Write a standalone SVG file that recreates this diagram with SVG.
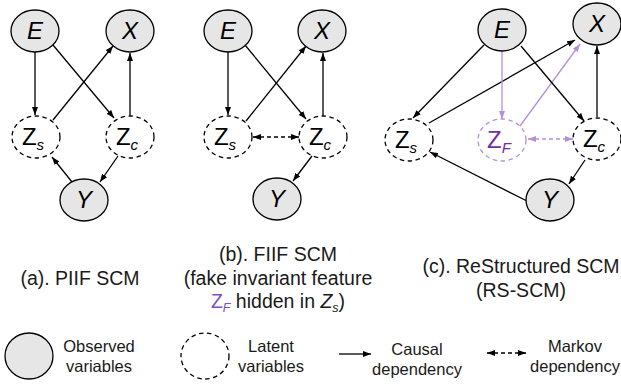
<svg xmlns="http://www.w3.org/2000/svg" width="621" height="388" viewBox="0 0 621 388">
  <style>
    .obs { fill: #e6e6e6; stroke: #000; stroke-width: 1.3; }
    .lat { fill: #fff; stroke: #000; stroke-width: 1.3; stroke-dasharray: 4.5 3.5; }
    .latp { fill: #fff; stroke: #b48fdc; stroke-width: 1.3; stroke-dasharray: 4.5 3.5; }
    .lbl { font-family: "Liberation Sans", Arial, sans-serif; font-size: 24px; font-style: italic; text-anchor: middle; fill: #000; }
    .zl { font-family: "Liberation Sans", Arial, sans-serif; font-size: 24px; text-anchor: middle; fill: #000; }
    .sub { font-size: 15px; font-style: italic; }
    .edge { stroke: #000; stroke-width: 1.3; fill: none; marker-end: url(#ah); }
    .pedge { stroke: #b48fdc; stroke-width: 1.3; fill: none; marker-end: url(#ahp); }
    .mk { stroke: #000; stroke-width: 1.3; fill: none; stroke-dasharray: 4 3; marker-start: url(#ah); marker-end: url(#ah); }
    .pmk { stroke: #b48fdc; stroke-width: 1.3; fill: none; stroke-dasharray: 4 3; marker-start: url(#ahp); marker-end: url(#ahp); }
    .cap { font-family: "Liberation Sans", Arial, sans-serif; font-size: 19.5px; text-anchor: middle; fill: #1a1a1a; }
    .leg { font-family: "Liberation Sans", Arial, sans-serif; font-size: 16.5px; text-anchor: middle; fill: #1a1a1a; }
  </style>
  <defs>
    <marker id="ah" viewBox="0 0 8 6" refX="8" refY="3" markerWidth="8" markerHeight="6" markerUnits="userSpaceOnUse" orient="auto-start-reverse">
      <path d="M0,0 L8,3 L0,6 z" fill="#000"/>
    </marker>
    <marker id="ahp" viewBox="0 0 8 6" refX="8" refY="3" markerWidth="8" markerHeight="6" markerUnits="userSpaceOnUse" orient="auto-start-reverse">
      <path d="M0,0 L8,3 L0,6 z" fill="#b48fdc"/>
    </marker>
  </defs>

  <rect width="621" height="388" fill="#fff"/>

  <!-- connectors -->
  <g id="connectors">
    <!-- (a) PIIF -->
    <line class="edge" x1="35" y1="52" x2="35" y2="115"/>
    <line class="edge" x1="53" y1="45" x2="114" y2="118"/>
    <line class="edge" x1="53" y1="120" x2="113" y2="46"/>
    <line class="edge" x1="130" y1="116" x2="130" y2="53"/>
    <line class="edge" x1="72" y1="182" x2="52" y2="157"/>
    <line class="edge" x1="118" y1="156" x2="100" y2="182"/>
    <!-- (b) FIIF -->
    <line class="edge" x1="228" y1="52" x2="228" y2="115"/>
    <line class="edge" x1="245" y1="45" x2="306" y2="119"/>
    <line class="edge" x1="246" y1="121" x2="306" y2="46"/>
    <line class="edge" x1="323" y1="116" x2="323" y2="53"/>
    <line class="mk" x1="253" y1="137" x2="299" y2="137"/>
    <line class="edge" x1="312" y1="156" x2="293" y2="181"/>
    <!-- (c) RS-SCM -->
    <line class="edge" x1="484" y1="45" x2="413" y2="118"/>
    <line class="edge" x1="429" y1="123" x2="575" y2="40"/>
    <line class="pedge" x1="502" y1="51" x2="502" y2="119"/>
    <line class="pedge" x1="520" y1="126" x2="580" y2="44"/>
    <line class="edge" x1="521" y1="46" x2="584" y2="121"/>
    <line class="edge" x1="597" y1="117" x2="597" y2="46"/>
    <line class="pmk" x1="528" y1="139" x2="573" y2="139"/>
    <line class="edge" x1="585" y1="160" x2="569" y2="184"/>
    <line class="edge" x1="527" y1="201" x2="430" y2="152"/>
  </g>

  <!-- (a) PIIF SCM nodes -->
  <g id="a-E"><ellipse class="obs" cx="35" cy="31" rx="24" ry="21"/><text class="lbl" x="35" y="39">E</text></g>
  <g id="a-X"><ellipse class="obs" cx="130" cy="31" rx="24" ry="21"/><text class="lbl" x="130" y="39">X</text></g>
  <g id="a-Zs"><ellipse class="lat" cx="36" cy="137" rx="24" ry="21"/><text class="zl" x="33" y="145">Z<tspan class="sub" dy="5">s</tspan></text></g>
  <g id="a-Zc"><ellipse class="lat" cx="130" cy="137" rx="24" ry="21"/><text class="zl" x="127" y="145">Z<tspan class="sub" dy="5">c</tspan></text></g>
  <g id="a-Y"><ellipse class="obs" cx="84" cy="200" rx="24" ry="21"/><text class="lbl" x="84" y="208">Y</text></g>

  <!-- (b) FIIF SCM nodes -->
  <g id="b-E"><ellipse class="obs" cx="228" cy="31" rx="24" ry="21"/><text class="lbl" x="228" y="39">E</text></g>
  <g id="b-X"><ellipse class="obs" cx="322" cy="31" rx="24" ry="21"/><text class="lbl" x="322" y="39">X</text></g>
  <g id="b-Zs"><ellipse class="lat" cx="228" cy="137" rx="24" ry="21"/><text class="zl" x="225" y="145">Z<tspan class="sub" dy="5">s</tspan></text></g>
  <g id="b-Zc"><ellipse class="lat" cx="323" cy="137" rx="24" ry="21"/><text class="zl" x="320" y="145">Z<tspan class="sub" dy="5">c</tspan></text></g>
  <g id="b-Y"><ellipse class="obs" cx="277" cy="199" rx="24" ry="21"/><text class="lbl" x="277" y="207">Y</text></g>

  <!-- (c) ReStructured SCM nodes -->
  <g id="c-E"><ellipse class="obs" cx="502" cy="30" rx="24" ry="21"/><text class="lbl" x="502" y="38">E</text></g>
  <g id="c-X"><ellipse class="obs" cx="597" cy="24" rx="24" ry="21"/><text class="lbl" x="597" y="32">X</text></g>
  <g id="c-Zs"><ellipse class="lat" cx="409" cy="140" rx="24" ry="21"/><text class="zl" x="406" y="148">Z<tspan class="sub" dy="5">s</tspan></text></g>
  <g id="c-ZF"><ellipse class="latp" cx="502" cy="140" rx="24" ry="21"/><text class="zl" x="499" y="148" style="fill:#7030a0">Z<tspan class="sub" dy="5">F</tspan></text></g>
  <g id="c-Zc"><ellipse class="lat" cx="597" cy="139" rx="24" ry="21"/><text class="zl" x="594" y="147">Z<tspan class="sub" dy="5">c</tspan></text></g>
  <g id="c-Y"><ellipse class="obs" cx="550" cy="200" rx="24" ry="21"/><text class="lbl" x="550" y="208">Y</text></g>

  <!-- captions -->
  <g id="captions">
    <text class="cap" x="80" y="285">(a). PIIF SCM</text>
    <text class="cap" x="278" y="261">(b). FIIF SCM</text>
    <text class="cap" x="278" y="285">(fake invariant feature</text>
    <text class="cap" x="278" y="308"><tspan fill="#7e4fc0">Z</tspan><tspan fill="#7e4fc0" font-size="12.5" font-style="italic" dy="4">F</tspan><tspan dy="-4"> hidden in </tspan><tspan font-style="italic">Z</tspan><tspan font-size="12.5" font-style="italic" dy="4">s</tspan><tspan dy="-4">)</tspan></text>
    <text class="cap" x="521" y="273">(c). ReStructured SCM</text>
    <text class="cap" x="521" y="297">(RS-SCM)</text>
  </g>

  <!-- legend -->
  <g id="legend">
    <g id="legend-observed">
      <ellipse class="obs" cx="29" cy="356" rx="24" ry="23"/>
      <text class="leg" x="99" y="352">Observed</text>
      <text class="leg" x="99" y="372">variables</text>
    </g>
    <g id="legend-latent">
      <ellipse class="lat" cx="205" cy="356" rx="24" ry="23"/>
      <text class="leg" x="271" y="352">Latent</text>
      <text class="leg" x="271" y="372">variables</text>
    </g>
    <g id="legend-causal">
      <line class="edge" x1="339" y1="354" x2="371" y2="354"/>
      <text class="leg" x="417" y="355">Causal</text>
      <text class="leg" x="417" y="375">dependency</text>
    </g>
    <g id="legend-markov">
      <line class="mk" x1="487" y1="353" x2="526" y2="353"/>
      <text class="leg" x="575" y="352">Markov</text>
      <text class="leg" x="575" y="372">dependency</text>
    </g>
  </g>
</svg>
